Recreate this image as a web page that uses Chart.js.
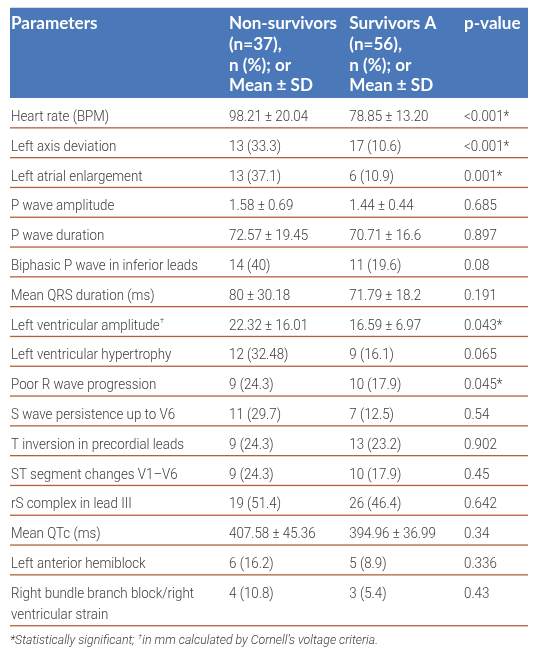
<!DOCTYPE html>
<html>
<head>
<meta charset="utf-8">
<script src="https://cdn.jsdelivr.net/npm/chart.js@4.4.1/dist/chart.umd.min.js"></script>
<style>
  html, body { margin: 0; padding: 0; background: #ffffff; }
  #wrap { width: 537px; height: 656px; position: relative; }
</style>
</head>
<body>
<div id="wrap"><canvas id="c"></canvas></div>
<script>
// ---------- DATA ----------
const headerParameters = ["Parameters"];
const headerNonSurvivors = ["Non-survivors", "(n=37),", "n (%); or", "Mean ± SD"];
const headerSurvivors = ["Survivors A", "(n=56),", "n (%); or", "Mean ± SD"];
const headerPValue = ["p-value"];

const parameters = [
  "Heart rate (BPM)",
  "Left axis deviation",
  "Left atrial enlargement",
  "P wave amplitude",
  "P wave duration",
  "Biphasic P wave in inferior leads",
  "Mean QRS duration (ms)",
  "Left ventricular amplitude†",
  "Left ventricular hypertrophy",
  "Poor R wave progression",
  "S wave persistence up to V6",
  "T inversion in precordial leads",
  "ST segment changes V1–V6",
  "rS complex in lead III",
  "Mean QTc (ms)",
  "Left anterior hemiblock",
  "Right bundle branch block/right ventricular strain"
];
const nonSurvivors = [
  "98.21 ± 20.04", "13 (33.3)", "13 (37.1)", "1.58 ± 0.69", "72.57 ± 19.45",
  "14 (40)", "80 ± 30.18", "22.32 ± 16.01", "12 (32.48)", "9 (24.3)",
  "11 (29.7)", "9 (24.3)", "9 (24.3)", "19 (51.4)", "407.58 ± 45.36",
  "6 (16.2)", "4 (10.8)"
];
const survivorsA = [
  "78.85 ± 13.20", "17 (10.6)", "6 (10.9)", "1.44 ± 0.44", "70.71 ± 16.6",
  "11 (19.6)", "71.79 ± 18.2", "16.59 ± 6.97", "9 (16.1)", "10 (17.9)",
  "7 (12.5)", "13 (23.2)", "10 (17.9)", "26 (46.4)", "394.96 ± 36.99",
  "5 (8.9)", "3 (5.4)"
];
const pValues = [
  "<0.001*", "<0.001*", "0.001*", "0.685", "0.897",
  "0.08", "0.191", "0.043*", "0.065", "0.045*",
  "0.54", "0.902", "0.45", "0.642", "0.34",
  "0.336", "0.43"
];
const footnote = "*Statistically significant; †in mm calculated by Cornell’s voltage criteria.";

// ---------- STYLE / LAYOUT ----------
const HEADER_BG = "#4a78b8";
const RULE_COLOR = "#b4603f";
const TOP_RULE = "#dcdcdc";
const TEXT_COLOR = "#3c3c3c";
const BODY_SIZE = 14.8;
const BODY_FONT = "300 14.8px Roboto";
const HEAD_SIZE = 16.5;
const HEAD_FONT = "700 16.5px Lato";
const FOOT_SIZE = 13;
const FOOT_FONT = "italic 300 13px Roboto";

const TABLE_W = 518;            // table width in table units
const COL_X = [1, 219, 339.3, 454];
const COL0_WRAP = 205;
const HEADER_H = 90.5;
const HEAD_FIRST_BASE = 21.5;
const HEAD_LINE = 20.8;
const ROW_H = 29.8;
const EXTRA_LINE = 21.1;
const BASE_OFF = 23;
const TOTAL_H = 648.5;

const cv = document.getElementById('c');
const mctx = document.createElement('canvas').getContext('2d');
function measure(s, font) { mctx.font = font; return mctx.measureText(s).width; }
const bodySx = 187 / measure("Biphasic P wave in inferior leads", BODY_FONT);
const headSx = 108 / measure("Non-survivors", HEAD_FONT);
const footSx = 370 / measure(footnote, FOOT_FONT);

function wrapText(s, font, sx, maxW) {
  const words = s.split(" ");
  const lines = [];
  let cur = "";
  for (const w of words) {
    const t = cur ? cur + " " + w : w;
    if (measure(t, font) * sx > maxW && cur) { lines.push(cur); cur = w; }
    else cur = t;
  }
  if (cur) lines.push(cur);
  return lines;
}

function drawRich(ctx, str, x, y, font, size, color, sx) {
  // handles † as a small superscript
  ctx.save();
  ctx.fillStyle = color;
  ctx.textBaseline = "alphabetic";
  ctx.translate(x, y);
  ctx.scale(sx, 1);
  const parts = str.split("†");
  let cx = 0;
  parts.forEach((p, i) => {
    if (i > 0) {
      const small = font.replace(/[\d.]+px/, (size * 0.55).toFixed(1) + "px");
      ctx.font = small;
      ctx.fillText("†", cx + 0.5, -size * 0.42);
      cx += ctx.measureText("†").width + 1;
    }
    ctx.font = font;
    ctx.fillText(p, cx, 0);
    cx += ctx.measureText(p).width;
  });
  ctx.restore();
}

const rowLines = parameters.map(p => wrapText(p, BODY_FONT, bodySx, COL0_WRAP));
const rowTops = [];
let acc = HEADER_H;
rowLines.forEach(l => { rowTops.push(acc); acc += ROW_H + (l.length - 1) * EXTRA_LINE; });
const tableBottom = acc;

const tablePlugin = {
  id: 'tablePlugin',
  beforeDatasetsDraw(chart) {
    const ctx = chart.ctx;
    const xs = chart.scales.x, ys = chart.scales.y;
    const X = v => xs.getPixelForValue(v);
    const Y = v => ys.getPixelForValue(v);
    ctx.save();
    // top light rule
    ctx.fillStyle = TOP_RULE;
    ctx.fillRect(X(0), Y(0) - 0.5, X(TABLE_W) - X(0), 1);
    // header background
    ctx.fillStyle = HEADER_BG;
    ctx.fillRect(X(0), Y(0.5), X(TABLE_W) - X(0), Y(HEADER_H) - Y(0.5));
    // header text
    const heads = [headerParameters, headerNonSurvivors, headerSurvivors, headerPValue];
    heads.forEach((lines, c) => {
      lines.forEach((ln, i) => {
        drawRich(ctx, ln, X(COL_X[c]), Y(HEAD_FIRST_BASE + i * HEAD_LINE), HEAD_FONT, HEAD_SIZE, "#ffffff", headSx);
      });
    });
    // rows
    parameters.forEach((p, r) => {
      const top = rowTops[r];
      const lines = rowLines[r];
      lines.forEach((ln, i) => {
        drawRich(ctx, ln, X(COL_X[0]), Y(top + BASE_OFF + i * EXTRA_LINE), BODY_FONT, BODY_SIZE, TEXT_COLOR, bodySx);
      });
      [nonSurvivors[r], survivorsA[r], pValues[r]].forEach((v, c) => {
        drawRich(ctx, v, X(COL_X[c + 1]), Y(top + BASE_OFF), BODY_FONT, BODY_SIZE, TEXT_COLOR, bodySx);
      });
      const bottom = top + ROW_H + (lines.length - 1) * EXTRA_LINE;
      ctx.fillStyle = RULE_COLOR;
      ctx.fillRect(X(0), Y(bottom) - 0.6, X(TABLE_W) - X(0), 1.3);
    });
    // footnote
    drawRich(ctx, footnote, X(0), Y(tableBottom + 18.5), FOOT_FONT, FOOT_SIZE, TEXT_COLOR, footSx);
    ctx.restore();
  }
};

// anchor points for each cell (invisible), placed via the chart's scales
const anchorData = [];
parameters.forEach((p, r) => {
  COL_X.forEach(cx => anchorData.push({ x: cx, y: rowTops[r] + BASE_OFF }));
});

new Chart(cv, {
  type: 'scatter',
  data: { datasets: [{ data: anchorData, pointRadius: 0, pointHoverRadius: 0, showLine: false }] },
  options: {
    responsive: true,
    maintainAspectRatio: false,
    animation: false,
    events: [],
    layout: { padding: { left: 10, right: 9, top: 7.5, bottom: 0 } },
    plugins: { legend: { display: false }, tooltip: { enabled: false } },
    scales: {
      x: { type: 'linear', display: false, min: 0, max: TABLE_W },
      y: { type: 'linear', display: false, min: 0, max: TOTAL_H, reverse: true }
    }
  },
  plugins: [tablePlugin]
});
</script>
</body>
</html>
